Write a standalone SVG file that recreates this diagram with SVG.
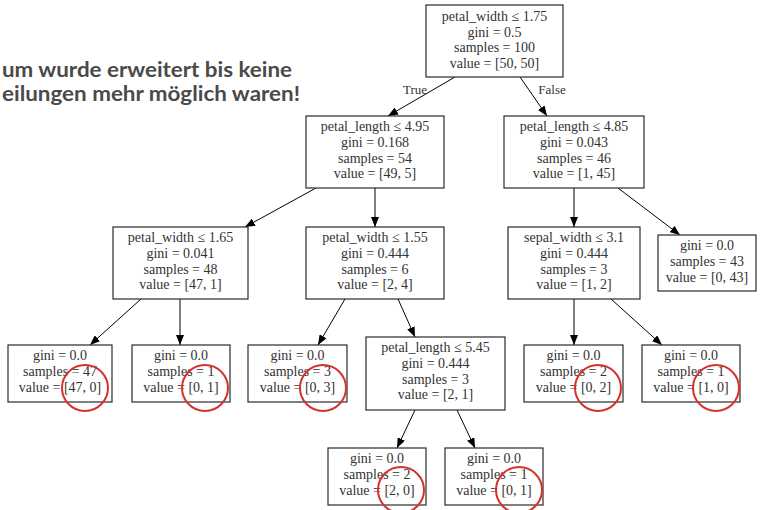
<svg xmlns="http://www.w3.org/2000/svg" width="760" height="510" viewBox="0 0 760 510">
<defs>
<marker id="ah" viewBox="0 0 10 8" refX="10" refY="4" markerWidth="10" markerHeight="8" markerUnits="userSpaceOnUse" orient="auto">
<path d="M0,0 L10,4 L0,8 Z" fill="#000"/>
</marker>
<style>
.box{fill:#fff;stroke:#2a2a2a;stroke-width:1.2}
.t{font-family:"Liberation Serif","DejaVu Serif",serif;font-size:14px;fill:#333;text-anchor:middle}
.e{stroke:#000;stroke-width:1;fill:none;marker-end:url(#ah)}
.lbl{font-family:"Liberation Serif","DejaVu Serif",serif;font-size:13px;fill:#333;text-anchor:middle}
.c{fill:none;stroke:#d4322a;stroke-width:2}
.note{font-family:"Lato","Open Sans",sans-serif;font-weight:700;font-size:21px;fill:#4a4a4a;text-anchor:end}
</style>
</defs>
<rect width="760" height="510" fill="#fff"/>
<text class="note" x="292" y="77" textLength="290" lengthAdjust="spacingAndGlyphs">um wurde erweitert bis keine</text>
<text class="note" x="300" y="101" textLength="298" lengthAdjust="spacingAndGlyphs">eilungen mehr möglich waren!</text>
<g id="connectors">
<line class="e" x1="455" y1="77" x2="388" y2="116"/>
<line class="e" x1="520" y1="77" x2="547" y2="116"/>
<line class="e" x1="316" y1="188" x2="245" y2="227"/>
<line class="e" x1="375" y1="188" x2="375" y2="227"/>
<line class="e" x1="574" y1="188" x2="574" y2="227"/>
<line class="e" x1="618" y1="188" x2="680" y2="235"/>
<line class="e" x1="141" y1="299" x2="90" y2="345"/>
<line class="e" x1="180" y1="299" x2="180" y2="345"/>
<line class="e" x1="345" y1="299" x2="318" y2="345"/>
<line class="e" x1="398" y1="299" x2="415" y2="337"/>
<line class="e" x1="574" y1="299" x2="574" y2="345"/>
<line class="e" x1="611" y1="299" x2="662" y2="345"/>
<line class="e" x1="415" y1="410" x2="397" y2="448"/>
<line class="e" x1="457" y1="410" x2="475" y2="448"/>
<text class="lbl" x="415" y="94">True</text>
<text class="lbl" x="552" y="94">False</text>
</g>
<g id="n0"><rect class="box" x="426" y="5" width="137" height="72"/>
<text class="t" x="494.5" y="20.5">petal_width ≤ 1.75</text><text class="t" x="494.5" y="36.5">gini = 0.5</text><text class="t" x="494.5" y="52">samples = 100</text><text class="t" x="494.5" y="67.5">value = [50, 50]</text></g>
<g id="n1"><rect class="box" x="306" y="116" width="138" height="72"/>
<text class="t" x="375" y="131">petal_length ≤ 4.95</text><text class="t" x="375" y="147">gini = 0.168</text><text class="t" x="375" y="162.5">samples = 54</text><text class="t" x="375" y="178">value = [49, 5]</text></g>
<g id="n2"><rect class="box" x="504" y="116" width="140" height="72"/>
<text class="t" x="574" y="131">petal_length ≤ 4.85</text><text class="t" x="574" y="147">gini = 0.043</text><text class="t" x="574" y="162.5">samples = 46</text><text class="t" x="574" y="178">value = [1, 45]</text></g>
<g id="n3"><rect class="box" x="113" y="227" width="135" height="72"/>
<text class="t" x="180.5" y="242">petal_width ≤ 1.65</text><text class="t" x="180.5" y="258">gini = 0.041</text><text class="t" x="180.5" y="273.5">samples = 48</text><text class="t" x="180.5" y="289">value = [47, 1]</text></g>
<g id="n4"><rect class="box" x="306" y="227" width="138" height="72"/>
<text class="t" x="375" y="242">petal_width ≤ 1.55</text><text class="t" x="375" y="258">gini = 0.444</text><text class="t" x="375" y="273.5">samples = 6</text><text class="t" x="375" y="289">value = [2, 4]</text></g>
<g id="n5"><rect class="box" x="508" y="227" width="132" height="72"/>
<text class="t" x="574" y="242">sepal_width ≤ 3.1</text><text class="t" x="574" y="258">gini = 0.444</text><text class="t" x="574" y="273.5">samples = 3</text><text class="t" x="574" y="289">value = [1, 2]</text></g>
<g id="n6"><rect class="box" x="658" y="235" width="98" height="56"/>
<text class="t" x="707" y="249.5">gini = 0.0</text><text class="t" x="707" y="265.5">samples = 43</text><text class="t" x="707" y="281.5">value = [0, 43]</text></g>
<g id="n7"><rect class="box" x="8" y="345" width="104" height="57"/>
<text class="t" x="60" y="359.5">gini = 0.0</text><text class="t" x="60" y="375.5">samples = 47</text><text class="t" x="60" y="391.5">value = [47, 0]</text></g>
<g id="n8"><rect class="box" x="132" y="345" width="98" height="57"/>
<text class="t" x="181" y="359.5">gini = 0.0</text><text class="t" x="181" y="375.5">samples = 1</text><text class="t" x="181" y="391.5">value = [0, 1]</text></g>
<g id="n9"><rect class="box" x="248" y="345" width="99" height="57"/>
<text class="t" x="297.5" y="359.5">gini = 0.0</text><text class="t" x="297.5" y="375.5">samples = 3</text><text class="t" x="297.5" y="391.5">value = [0, 3]</text></g>
<g id="n10"><rect class="box" x="366" y="337" width="139" height="73"/>
<text class="t" x="435.5" y="352">petal_length ≤ 5.45</text><text class="t" x="435.5" y="368">gini = 0.444</text><text class="t" x="435.5" y="383.5">samples = 3</text><text class="t" x="435.5" y="399">value = [2, 1]</text></g>
<g id="n11"><rect class="box" x="524" y="345" width="99" height="57"/>
<text class="t" x="573.5" y="359.5">gini = 0.0</text><text class="t" x="573.5" y="375.5">samples = 2</text><text class="t" x="573.5" y="391.5">value = [0, 2]</text></g>
<g id="n12"><rect class="box" x="642" y="345" width="98" height="57"/>
<text class="t" x="691" y="359.5">gini = 0.0</text><text class="t" x="691" y="375.5">samples = 1</text><text class="t" x="691" y="391.5">value = [1, 0]</text></g>
<g id="n13"><rect class="box" x="328" y="448" width="98" height="57"/>
<text class="t" x="377" y="462.5">gini = 0.0</text><text class="t" x="377" y="478.5">samples = 2</text><text class="t" x="377" y="494.5">value = [2, 0]</text></g>
<g id="n14"><rect class="box" x="445" y="448" width="98" height="57"/>
<text class="t" x="494" y="462.5">gini = 0.0</text><text class="t" x="494" y="478.5">samples = 1</text><text class="t" x="494" y="494.5">value = [0, 1]</text></g>
<g id="highlights">
<circle class="c" cx="85" cy="388" r="23"/>
<circle class="c" cx="205" cy="388" r="23"/>
<circle class="c" cx="323" cy="388" r="23"/>
<circle class="c" cx="598" cy="388" r="23"/>
<circle class="c" cx="716" cy="388" r="23"/>
<circle class="c" cx="401" cy="490" r="23"/>
<circle class="c" cx="519" cy="490" r="23"/>
</g>
</svg>
